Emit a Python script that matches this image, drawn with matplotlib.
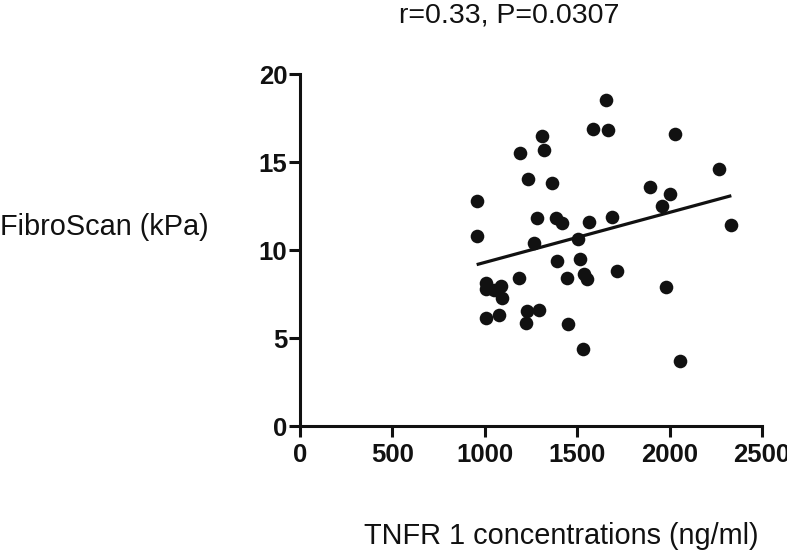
import numpy as np
import matplotlib
matplotlib.use("Agg")
import matplotlib.pyplot as plt

# Data
tnfr1 = [957, 956, 1006, 1008, 1049, 1085, 1092, 1006, 1075, 1185,
         1190, 1234, 1226, 1224, 1292, 1310, 1322, 1283, 1264, 1364,
         1385, 1418, 1390, 1446, 1450, 1507, 1517, 1536, 1551, 1529,
         1566, 1588, 1655, 1666, 1686, 1716, 1894, 1959, 2000, 1981,
         2029, 2055, 2269, 2334]
fibroscan = [12.8, 10.8, 8.14, 7.77, 7.72, 7.95, 7.30, 6.11, 6.30, 8.40,
             15.52, 14.01, 6.53, 5.87, 6.58, 16.5, 15.69, 11.82, 10.40, 13.81,
             11.84, 11.51, 9.39, 8.39, 5.79, 10.62, 9.50, 8.62, 8.38, 4.40,
             11.61, 16.9, 18.5, 16.8, 11.9, 8.81, 13.6, 12.52, 13.19, 7.91,
             16.61, 3.70, 14.62, 11.40]
x_ticks = [0, 500, 1000, 1500, 2000, 2500]
y_ticks = [0, 5, 10, 15, 20]
title_text = "r=0.33, P=0.0307"
xlabel_text = "TNFR 1 concentrations (ng/ml)"
ylabel_text = "FibroScan (kPa)"

W, H = 787, 555
fig = plt.figure(figsize=(W / 100, H / 100), dpi=100)
ax = fig.add_axes([300 / W, 1 - 426 / H, 462 / W, 352 / H])

x = np.array(tnfr1)
y = np.array(fibroscan)
ax.plot(x, y, 'o', color='#111111', markersize=9.8, markeredgewidth=0, zorder=3)

slope, intercept = np.polyfit(x, y, 1)
xl = np.array([x.min(), x.max()])
ax.plot(xl, slope * xl + intercept, color='#111111', linewidth=2.3, zorder=2,
        solid_capstyle='butt')

ax.set_xlim(0, 2500)
ax.set_ylim(0, 20)
ax.set_xticks(x_ticks)
ax.set_yticks(y_ticks)
for s in ['top', 'right']:
    ax.spines[s].set_visible(False)
for s in ['left', 'bottom']:
    ax.spines[s].set_linewidth(2.2)
    ax.spines[s].set_color('#111111')
ax.tick_params(axis='both', direction='out', length=8, width=2.2, color='#111111')
ax.tick_params(axis='x', pad=4)
ax.tick_params(axis='y', pad=1)

tick_font = dict(family=['Liberation Sans', 'DejaVu Sans'],
                 weight='bold', size=18.5)
ax.set_xticklabels([str(t) for t in x_ticks], **tick_font, color='#111111')
ax.set_yticklabels([str(t) for t in y_ticks], **tick_font, color='#111111')

lab_font = dict(family=['Liberation Sans', 'DejaVu Sans'], color='#111111')
fig.text(509 / W, 1 - 22 / H, title_text, ha='center', va='baseline',
         size=20.5, **lab_font)
fig.text(0 / W, 1 - 235 / H, ylabel_text, ha='left', va='baseline',
         size=20.8, **lab_font)
fig.text(561 / W, 1 - 544 / H, xlabel_text, ha='center', va='baseline',
         size=20.8, **lab_font)

fig.savefig('out.png', dpi=100)
